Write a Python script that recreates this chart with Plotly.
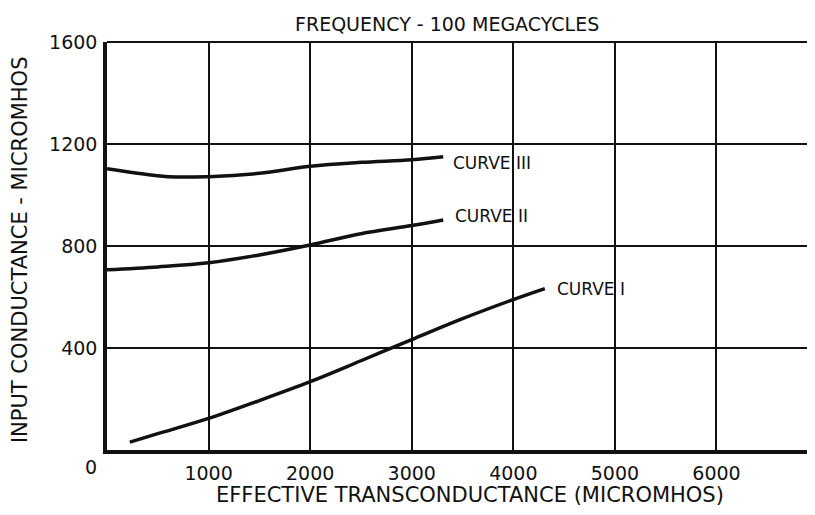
import plotly.graph_objects as go

# values (x: effective transconductance, y: input conductance)
curve1_x = [225, 500, 1000, 1500, 2000, 2500, 3000, 3500, 4000, 4310]
curve1_y = [31, 64, 124, 194, 268, 350, 433, 515, 590, 633]

curve2_x = [0, 500, 1000, 1500, 2000, 2500, 3000, 3310]
curve2_y = [707, 718, 734, 765, 804, 848, 880, 902]

curve3_x = [0, 600, 1000, 1500, 2000, 2500, 3000, 3310]
curve3_y = [1103, 1072, 1072, 1085, 1113, 1128, 1138, 1150]

x_ticks = [1000, 2000, 3000, 4000, 5000, 6000]
y_ticks = [400, 800, 1200, 1600]

FONT = "DejaVu Sans"
INK = "#111111"

fig = go.Figure()
for xs, ys in [(curve1_x, curve1_y), (curve2_x, curve2_y), (curve3_x, curve3_y)]:
    fig.add_trace(go.Scatter(x=xs, y=ys, mode="lines",
                             line=dict(color=INK, width=3.5, shape="spline", smoothing=1.0),
                             showlegend=False, hoverinfo="skip"))

labels = [("CURVE III", 3390, 1125), ("CURVE II", 3410, 918), ("CURVE I", 4410, 631)]
annotations = [dict(x=x, y=y, text=t, showarrow=False, xanchor="left", yanchor="middle",
                    font=dict(family=FONT, size=17, color=INK)) for t, x, y in labels]

annotations += [
    dict(text="FREQUENCY - 100 MEGACYCLES", x=0.48, y=1, xref="paper", yref="paper",
         yanchor="middle", yshift=18, showarrow=False, font=dict(family=FONT, size=19, color=INK)),
    dict(text="EFFECTIVE TRANSCONDUCTANCE (MICROMHOS)", x=0.513, y=0, xref="paper", yref="paper",
         yanchor="middle", yshift=-45, showarrow=False, font=dict(family=FONT, size=21, color=INK)),
    dict(text="INPUT CONDUCTANCE - MICROMHOS", x=0, y=0.49, xref="paper", yref="paper",
         xanchor="center", xshift=-87, textangle=-90, showarrow=False,
         font=dict(family=FONT, size=21, color=INK)),
    dict(text="0", x=0, y=0, xref="paper", yref="paper", xshift=-24, yanchor="middle", yshift=-17,
         showarrow=False, font=dict(family=FONT, size=19, color=INK)),
]

# page body has an 8px margin, so the figure is shrunk by that much
fig.update_layout(
    width=807, height=507,
    margin=dict(l=99, r=0, t=34, b=65),
    paper_bgcolor="white", plot_bgcolor="white",
    font=dict(family=FONT, color=INK),
    annotations=annotations,
    shapes=[dict(type="line", xref="paper", yref="paper", x0=0, x1=1, y0=1, y1=1,
                 line=dict(color=INK, width=2))],
    xaxis=dict(range=[0, 6970], tickvals=x_ticks, showgrid=True, gridcolor=INK, gridwidth=1.5,
               showline=True, linecolor=INK, linewidth=3.5, zeroline=False,
               tickfont=dict(family=FONT, size=19, color=INK), ticks="", ticklabelstandoff=3),
    yaxis=dict(range=[0, 1600], tickvals=y_ticks, showgrid=True, gridcolor=INK, gridwidth=1.5,
               showline=True, linecolor=INK, linewidth=3.5, zeroline=False,
               tickfont=dict(family=FONT, size=19, color=INK), ticks="", ticklabelstandoff=2),
)

fig.write_html("out.html")
